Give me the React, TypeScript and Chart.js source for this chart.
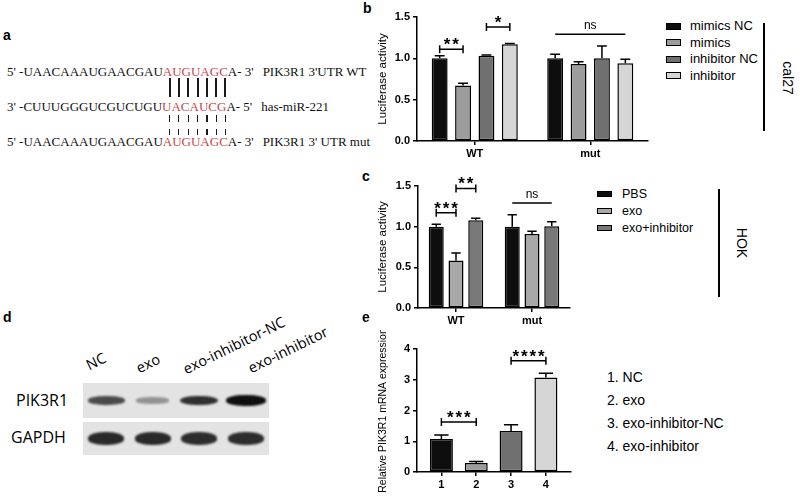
import React, { useEffect, useRef } from 'react';
import { Chart, registerables } from 'chart.js';

Chart.register(...registerables);

const FONT = "'Liberation Sans', Arial, Helvetica, sans-serif";
const SERIF = "'Liberation Serif', 'Times New Roman', serif";
const BLOTFONT = "'Open Sans', 'Liberation Sans', sans-serif";

// ---------- panel b (cal27) ----------
const bGroups = ['WT', 'mut'];
const bSeries = ['mimics NC', 'mimics', 'inhibitor NC', 'inhibitor'];
const bMimicsNC = [1.0, 1.0];
const bMimicsNCErr = [0.03, 0.05];
const bMimics = [0.67, 0.93];
const bMimicsErr = [0.03, 0.03];
const bInhibitorNC = [1.03, 1.0];
const bInhibitorNCErr = [0.01, 0.15];
const bInhibitor = [1.17, 0.94];
const bInhibitorErr = [0.01, 0.05];
const bColors = ['#0e0e0e', '#9c9c9c', '#707070', '#d6d6d6'];
const bSig = [
  { a: [0, 0], b: [1, 0], y: 1.11, text: '**', ends: true },
  { a: [2, 0], b: [3, 0], y: 1.38, text: '*', ends: true },
  { a: [0, 1], b: [3, 1], y: 1.29, text: 'ns', ends: false },
];

// ---------- panel c (HOK) ----------
const cGroups = ['WT', 'mut'];
const cSeries = ['PBS', 'exo', 'exo+inhibitor'];
const cPBS = [1.0, 1.0];
const cPBSErr = [0.03, 0.145];
const cExo = [0.585, 0.91];
const cExoErr = [0.09, 0.035];
const cExoInhibitor = [1.08, 1.005];
const cExoInhibitorErr = [0.025, 0.055];
const cColors = ['#0e0e0e', '#a8a8a8', '#787878'];
const cSig = [
  { a: [0, 0], b: [1, 0], y: 1.17, text: '***', ends: true },
  { a: [1, 0], b: [2, 0], y: 1.47, text: '**', ends: true },
  { a: [0, 1], b: [2, 1], y: 1.29, text: 'ns', ends: false },
];

// ---------- panel e ----------
const eCategories = ['1', '2', '3', '4'];
const eValues = [1.07, 0.29, 1.33, 3.07];
const eErrors = [0.13, 0.05, 0.21, 0.14];
const eColors = ['#0e0e0e', '#9c9c9c', '#707070', '#d6d6d6'];
const eLegend = ['1. NC', '2. exo', '3. exo-inhibitor-NC', '4. exo-inhibitor'];
const eSig = [
  { a: [0, 0], b: [0, 1], y: 1.63, text: '***', ends: true },
  { a: [0, 2], b: [0, 3], y: 3.62, text: '****', ends: true },
];

// ---------- panel d (western blot) ----------
const laneLabels = ['NC', 'exo', 'exo-inhibitor-NC', 'exo-inhibitor'];
const pik3r1Bands = [0.72, 0.38, 0.85, 1.0];
const gapdhBands = [0.88, 0.88, 0.86, 0.86];

// ---------- panel a (sequences) ----------
const seqRows = [
  { prefix: "5' -UAACAAAUGAACGAU", site: 'AUGUAGC', suffix: "A- 3'", label: "PIK3R1 3'UTR WT" },
  { prefix: "3' -CUUUGGGUCGUCUGU", site: 'UACAUCG', suffix: "A- 5'", label: 'has-miR-221' },
  { prefix: "5' -UAACAAAUGAACGAU", site: 'AUGUAGC', suffix: "A- 3'", label: "PIK3R1 3' UTR mut" },
];

const annotPlugin = {
  id: 'annot',
  afterDatasetsDraw(chart: any, _args: any, opts: any) {
    const ctx = chart.ctx;
    const ys = chart.scales.y;
    ctx.save();
    ctx.strokeStyle = '#000';
    ctx.fillStyle = '#000';
    ctx.lineWidth = 1.5;
    (opts.errors || []).forEach((errs: number[], di: number) => {
      const meta = chart.getDatasetMeta(di);
      meta.data.forEach((bar: any, i: number) => {
        const raw = chart.data.datasets[di].data[i];
        const val = typeof raw === 'object' ? raw.y : raw;
        const barTop = ys.getPixelForValue(val);
        const top = ys.getPixelForValue(val + errs[i]);
        const { x, width } = bar.getProps(['x', 'width'], true);
        const cw = width * 0.62;
        ctx.beginPath();
        ctx.moveTo(x, barTop);
        ctx.lineTo(x, top);
        ctx.moveTo(x - cw / 2, top);
        ctx.lineTo(x + cw / 2, top);
        ctx.stroke();
      });
    });
    (opts.sig || []).forEach((s: any) => {
      const b1 = chart.getDatasetMeta(s.a[0]).data[s.a[1]];
      const b2 = chart.getDatasetMeta(s.b[0]).data[s.b[1]];
      const x1 = b1.x;
      const x2 = b2.x;
      const y = ys.getPixelForValue(s.y);
      ctx.beginPath();
      ctx.moveTo(x1, y);
      ctx.lineTo(x2, y);
      if (s.ends) {
        ctx.moveTo(x1, y - 4);
        ctx.lineTo(x1, y + 4);
        ctx.moveTo(x2, y - 4);
        ctx.lineTo(x2, y + 4);
      }
      ctx.stroke();
      const cx = (x1 + x2) / 2;
      ctx.textAlign = 'center';
      ctx.textBaseline = 'alphabetic';
      if (s.text === 'ns') {
        ctx.font = `12px ${FONT}`;
        ctx.fillText('ns', cx, y - 5);
      } else {
        ctx.font = `bold 17px ${FONT}`;
        const n = s.text.length;
        const sp = 8.5;
        for (let k = 0; k < n; k++) {
          ctx.fillText('*', cx + (k - (n - 1) / 2) * sp, y + 1);
        }
      }
    });
    ctx.restore();
  },
};

function yScale(max: number, step: number, title: string, titleSize: number, width: number, decimals: number) {
  return {
    min: 0,
    max,
    ticks: {
      stepSize: step,
      color: '#000',
      font: { family: FONT, size: 11, weight: 'bold' },
      padding: 3,
      callback: (v: any) => Number(v).toFixed(decimals),
    },
    grid: { display: true, drawOnChartArea: false, drawTicks: true, tickLength: 4, lineWidth: 1.5, color: '#000' },
    border: { display: true, color: '#000', width: 1.5 },
    title: { display: true, text: title, color: '#000', font: { family: FONT, size: titleSize }, padding: { top: 4, bottom: 4 } },
    afterFit: (s: any) => {
      s.width = width;
    },
  };
}

function xCategory(height: number) {
  return {
    offset: true,
    grid: { display: true, offset: false, drawOnChartArea: false, drawTicks: true, tickLength: 4, lineWidth: 1.5, color: '#000' },
    border: { display: true, color: '#000', width: 1.5 },
    ticks: { color: '#000', font: { family: FONT, size: 11, weight: 'bold' }, padding: 2, maxRotation: 0 },
    afterFit: (s: any) => {
      s.height = height;
    },
  };
}

function barDataset(label: string, data: any[], color: any, catPct: number, barPct: number) {
  return {
    label,
    data,
    backgroundColor: color,
    borderColor: '#000',
    borderWidth: 1.5,
    borderSkipped: false,
    categoryPercentage: catPct,
    barPercentage: barPct,
  };
}

function configB(): any {
  const vals = [bMimicsNC, bMimics, bInhibitorNC, bInhibitor];
  return {
    type: 'bar',
    data: {
      labels: bGroups,
      datasets: bSeries.map((s, i) => barDataset(s, vals[i], bColors[i], 0.81, 0.68)),
    },
    options: {
      responsive: false,
      animation: false,
      layout: { padding: { left: 12, top: 17, right: 12, bottom: 0 } },
      plugins: {
        legend: { display: false },
        tooltip: { enabled: false },
        annot: { errors: [bMimicsNCErr, bMimicsErr, bInhibitorNCErr, bInhibitorErr], sig: bSig },
      },
      scales: { x: xCategory(24), y: yScale(1.5, 0.5, 'Luciferase activity', 11.5, 45, 1) },
    },
    plugins: [annotPlugin],
  };
}

function configC(): any {
  const vals = [cPBS, cExo, cExoInhibitor];
  return {
    type: 'bar',
    data: {
      labels: cGroups,
      datasets: cSeries.map((s, i) => barDataset(s, vals[i], cColors[i], 0.78, 0.76)),
    },
    options: {
      responsive: false,
      animation: false,
      layout: { padding: { left: 12, top: 16, right: 10, bottom: 0 } },
      plugins: {
        legend: { display: false },
        tooltip: { enabled: false },
        annot: { errors: [cPBSErr, cExoErr, cExoInhibitorErr], sig: cSig },
      },
      scales: { x: xCategory(24), y: yScale(1.5, 0.5, 'Luciferase activity', 11.5, 46, 1) },
    },
    plugins: [annotPlugin],
  };
}

function configE(): any {
  const x = xCategory(24) as any;
  x.type = 'linear';
  x.offset = false;
  x.min = 0.3;
  x.max = 4.72;
  x.ticks = {
    ...x.ticks,
    stepSize: 1,
    includeBounds: false,
    autoSkip: false,
    callback: (v: any) => eCategories[Math.round(Number(v)) - 1] ?? '',
  };
  return {
    type: 'bar',
    data: {
      datasets: [
        barDataset(
          'PIK3R1',
          eValues.map((v, i) => ({ x: i + 1, y: v })),
          eColors,
          0.66,
          1,
        ),
      ],
    },
    options: {
      responsive: false,
      animation: false,
      layout: { padding: { left: 13, top: 19, right: 9, bottom: 0 } },
      plugins: {
        legend: { display: false },
        tooltip: { enabled: false },
        annot: { errors: [eErrors], sig: eSig },
      },
      scales: { x, y: yScale(4, 1, 'Relative PIK3R1 mRNA expression', 10.5, 44, 0) },
    },
    plugins: [annotPlugin],
  };
}

const abs = (left: number, top: number, extra: any = {}) => ({ position: 'absolute' as const, left, top, ...extra });

function PanelLetter({ ch, left, top }: { ch: string; left: number; top: number }) {
  return (
    <div style={abs(left, top, { font: `bold 14px ${FONT}`, lineHeight: '16px', color: '#000' })}>{ch}</div>
  );
}

const SEQ_FONT = `13px ${SERIF}`;

function SequenceRow({ row, top }: { row: any; top: number }) {
  return (
    <div style={abs(7, top, { font: SEQ_FONT, lineHeight: '16px', whiteSpace: 'pre', color: '#111' })}>
      <span>{row.prefix}</span>
      <span style={{ color: '#c8454a' }}>{row.site}</span>
      <span>{row.suffix}</span>
      <span style={{ marginLeft: 9 }}>{row.label}</span>
    </div>
  );
}

function PairMarks({ row, top, height, width }: { row: any; top: number; height: number; width: number }) {
  return (
    <div style={abs(9, top, { font: SEQ_FONT, lineHeight: `${height}px`, height, whiteSpace: 'pre' })}>
      <span style={{ visibility: 'hidden' }}>{row.prefix}</span>
      {row.site.split('').map((c: string, i: number) => (
        <span key={i} style={{ position: 'relative', display: 'inline-block', height }}>
          <span style={{ visibility: 'hidden' }}>{c}</span>
          <span
            style={{
              position: 'absolute',
              left: '50%',
              top: 0,
              marginLeft: -width / 2,
              width,
              height: '100%',
              background: '#1a1a1a',
            }}
          />
        </span>
      ))}
    </div>
  );
}

function BlotStrip({ top, height, bands, kind }: { top: number; height: number; bands: number[]; kind: string }) {
  return (
    <div style={abs(83, top, { width: 186, height, background: '#e3e3e3', display: 'flex' })}>
      {bands.map((v, i) => {
        const w = kind === 'pik' ? 28 + 12 * v : 36;
        const h = kind === 'pik' ? 3 + 8 * v : 13;
        return (
          <div key={i} style={{ flex: 1, display: 'flex', alignItems: 'center', justifyContent: 'center' }}>
            <div
              style={{
                width: w,
                height: h,
                borderRadius: '45%',
                background: `rgba(15,15,15,${v})`,
                filter: 'blur(1.3px)',
              }}
            />
          </div>
        );
      })}
    </div>
  );
}

export default function App() {
  const bRef = useRef<HTMLCanvasElement>(null);
  const cRef = useRef<HTMLCanvasElement>(null);
  const eRef = useRef<HTMLCanvasElement>(null);

  useEffect(() => {
    const charts = [
      new Chart(bRef.current as HTMLCanvasElement, configB()),
      new Chart(cRef.current as HTMLCanvasElement, configC()),
      new Chart(eRef.current as HTMLCanvasElement, configE()),
    ];
    return () => charts.forEach((c) => c.destroy());
  }, []);

  const laneLabelPos = [
    [91, 374],
    [141, 377],
    [188, 378],
    [253, 377],
  ];

  return (
    <div
      style={{
        position: 'absolute',
        left: 0,
        top: 0,
        width: 800,
        height: 499,
        background: '#fff',
        overflow: 'hidden',
        fontFamily: FONT,
        color: '#000',
      }}
    >
      {/* panel a */}
      <PanelLetter ch="a" left={3} top={27} />
      <SequenceRow row={seqRows[0]} top={64} />
      <PairMarks row={seqRows[0]} top={78} height={19} width={2} />
      <SequenceRow row={seqRows[1]} top={99} />
      <PairMarks row={seqRows[2]} top={115} height={7} width={1.2} />
      <PairMarks row={seqRows[2]} top={129} height={6} width={1.2} />
      <SequenceRow row={seqRows[2]} top={134} />

      {/* panel b */}
      <PanelLetter ch="b" left={363} top={0} />
      <canvas ref={bRef} width={300} height={165} style={abs(360, 0)} />
      <div style={abs(666, 18, { font: `13px ${FONT}` })}>
        {bSeries.map((s, i) => (
          <div key={s} style={{ display: 'flex', alignItems: 'center', height: 16.5 }}>
            <div style={{ width: 13, height: 5, border: '1.5px solid #000', background: bColors[i] }} />
            <span style={{ marginLeft: 9, lineHeight: '16px' }}>{s}</span>
          </div>
        ))}
      </div>
      <div style={abs(763, 23, { width: 2, height: 108, background: '#000' })} />
      <div style={abs(770, 70, { width: 36, height: 16, font: `14px ${FONT}`, lineHeight: '16px', textAlign: 'center', transform: 'rotate(90deg)' })}>
        cal27
      </div>

      {/* panel c */}
      <PanelLetter ch="c" left={362} top={168} />
      <canvas ref={cRef} width={220} height={162} style={abs(360, 170)} />
      <div style={abs(597, 185, { font: `12.5px ${FONT}` })}>
        {cSeries.map((s, i) => (
          <div key={s} style={{ display: 'flex', alignItems: 'center', height: 17 }}>
            <div style={{ width: 13, height: 4, border: '1.5px solid #000', background: cColors[i] }} />
            <span style={{ marginLeft: 10, lineHeight: '16px' }}>{s}</span>
          </div>
        ))}
      </div>
      <div style={abs(718, 189, { width: 2, height: 108, background: '#000' })} />
      <div style={abs(724, 235, { width: 36, height: 16, font: `14px ${FONT}`, lineHeight: '16px', textAlign: 'center', transform: 'rotate(90deg)' })}>
        HOK
      </div>

      {/* panel d */}
      <PanelLetter ch="d" left={3} top={309} />
      {laneLabels.map((l, i) => (
        <div
          key={l}
          style={abs(laneLabelPos[i][0], laneLabelPos[i][1] - 18, {
            font: `14.5px ${BLOTFONT}`,
            lineHeight: '18px',
            whiteSpace: 'nowrap',
            transformOrigin: '0 100%',
            transform: 'rotate(-26deg)',
          })}
        >
          {l}
        </div>
      ))}
      <BlotStrip top={383} height={35} bands={pik3r1Bands} kind="pik" />
      <BlotStrip top={422} height={33} bands={gapdhBands} kind="gapdh" />
      <div style={abs(16, 390, { font: `16px ${BLOTFONT}`, lineHeight: '20px' })}>PIK3R1</div>
      <div style={abs(11, 427, { font: `16px ${BLOTFONT}`, lineHeight: '20px' })}>GAPDH</div>

      {/* panel e */}
      <PanelLetter ch="e" left={362} top={309} />
      <canvas ref={eRef} width={220} height={166} style={abs(360, 330)} />
      <div style={abs(607, 366, { font: `14px ${FONT}` })}>
        {eLegend.map((s) => (
          <div key={s} style={{ height: 23, lineHeight: '23px', whiteSpace: 'nowrap' }}>
            {s}
          </div>
        ))}
      </div>
    </div>
  );
}
